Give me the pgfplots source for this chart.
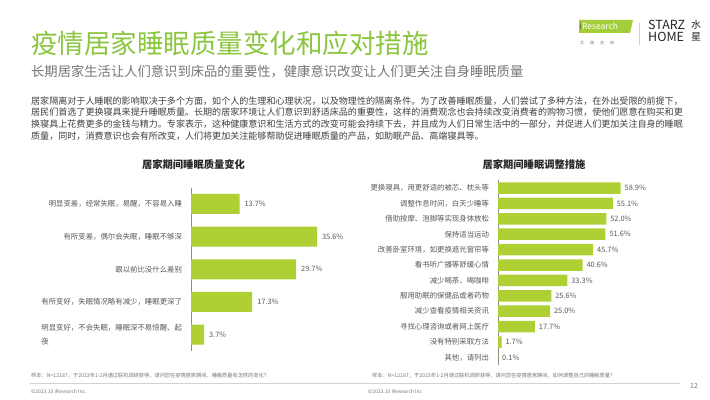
\documentclass[border=0pt]{standalone}
\usepackage{fontspec}
\setmainfont{Noto Sans CJK SC}
\usepackage{pgfplots}
\pgfplotsset{compat=1.18}
\definecolor{titlegreen}{RGB}{139,198,63}
\definecolor{bargreen}{RGB}{175,208,52}
\definecolor{logogreen}{RGB}{164,206,57}
\definecolor{txtgray}{RGB}{89,89,89}
\definecolor{subgray}{RGB}{118,118,118}
\definecolor{bodygray}{RGB}{64,64,64}
\definecolor{notegray}{RGB}{120,120,120}
\definecolor{linegray}{RGB}{210,210,210}
\newcommand{\fs}[2]{\fontsize{#1bp}{#2bp}\selectfont}
\begin{document}
\begin{tikzpicture}[x=1bp,y=1bp]
\useasboundingbox (0,0) rectangle (710,399);
\path[fill=white] (0,0) rectangle (710,399);
% header
\node[anchor=west, inner sep=0, text=titlegreen, font=\fs{26.5}{30}] at (31,399-43) {疫情居家睡眠质量变化和应对措施};
\node[anchor=west, inner sep=0, text=subgray, font=\fs{13.3}{15}] at (31,399-71.7) {长期居家生活让人们意识到床品的重要性，健康意识改变让人们更关注自身睡眠质量};
% logo
\fill[logogreen] (579,399-20) -- (633,399-20) -- (630,399-33) -- (579,399-33) -- cycle;
\node[anchor=west, inner sep=0, font=\fs{8.5}{9}] at (579.5,399-26.5) {\textcolor{black!70}{i}\textcolor{white}{Research}};
\node[anchor=west, inner sep=0, text=notegray, font=\fs{4}{5}] at (580,399-43) {艾\hspace{6bp}瑞\hspace{6bp}咨\hspace{6bp}询};
\draw[linegray, line width=0.6bp] (639,399-23) -- (639,399-45);
\node[anchor=west, inner sep=0, text=black!85, font=\fs{12.5}{13}] at (648,399-25) {STARZ};
\node[anchor=west, inner sep=0, text=black!85, font=\fs{12.5}{13}] at (648,399-37) {HOME};
\node[anchor=center, inner sep=0, text=black!85, font=\fs{10}{11}] at (696,399-25) {水};
\node[anchor=center, inner sep=0, text=black!85, font=\fs{10}{11}] at (696,399-37) {星};
% paragraph
\begin{scope}[every node/.style={anchor=west, inner sep=0, text=bodygray, font=\fs{9.05}{10}}]
\node at (31,399-100.7) {居家隔离对于人睡眠的影响取决于多个方面，如个人的生理和心理状况，以及物理性的隔离条件。为了改善睡眠质量，人们尝试了多种方法，在外出受限的前提下，};
\node at (31,399-112.3) {居民们首选了更换寝具来提升睡眠质量。长期的居家环境让人们意识到舒适床品的重要性，这样的消费观念也会持续改变消费者的购物习惯，使他们愿意在购买和更};
\node at (31,399-124) {换寝具上花费更多的金钱与精力。专家表示，这种健康意识和生活方式的改变可能会持续下去，并且成为人们日常生活中的一部分，并促进人们更加关注自身的睡眠};
\node at (31,399-135.7) {质量，同时，消费意识也会有所改变，人们将更加关注能够帮助促进睡眠质量的产品，如助眠产品、高端寝具等。};
\end{scope}
% chart titles
\node[inner sep=0, text=black!85, font=\fs{10.3}{11}\bfseries] at (193.5,399-165) {居家期间睡眠质量变化};
\node[inner sep=0, text=black!85, font=\fs{10.3}{11}\bfseries] at (534,399-165) {居家期间睡眠调整措施};
% left chart
\begin{axis}[
  at={(191bp,48bp)}, anchor=south west,
  scale only axis, width=141.6bp, height=163.5bp,
  xbar, bar width=20bp,
  xmin=0, xmax=40, ymin=-0.5, ymax=4.5, y dir=reverse,
  axis lines*=left,
  x axis line style={draw=none},
  y axis line style={-, draw=black!45, line width=0.6bp},
  xtick=\empty, ytick={0,1,2,3,4}, major tick length=0,
  yticklabels={明显变差，经常失眠，易醒，不容易入睡, 有所变差，偶尔会失眠，睡眠不够深, 跟以前比没什么差别, 有所变好，失眠情况略有减少，睡眠更深了, {\begin{tabular}{@{}l@{}}明显变好，不会失眠，睡眠深不易惊醒、起\\夜\end{tabular}}},
  yticklabel style={font=\fs{7.4}{14}, text=txtgray, xshift=-5.5bp},
  point meta=x,
  nodes near coords={\pgfmathprintnumber{\pgfplotspointmeta}\%},
  nodes near coords style={font=\fs{7.4}{8}, text=txtgray, anchor=west, xshift=1.5bp},
  /pgf/number format/.cd, fixed, fixed zerofill, precision=1, assume math mode=true,
]
\addplot[fill=bargreen, draw=none] coordinates {(13.7,0) (35.6,1) (29.7,2) (17.3,3) (3.7,4)};
\end{axis}
% right chart
\begin{axis}[
  at={(498bp,33.9bp)}, anchor=south west,
  scale only axis, width=145.8bp, height=184.8bp,
  xbar, bar width=11.5bp,
  xmin=0, xmax=70, ymin=-0.5, ymax=11.5, y dir=reverse,
  axis lines*=left,
  x axis line style={draw=none},
  y axis line style={-, draw=black!45, line width=0.6bp},
  xtick=\empty, ytick={0,...,11}, major tick length=0,
  yticklabels={更换寝具，用更舒适的被芯、枕头等, 调整作息时间，白天少睡等, 借助按摩、泡脚等实现身体放松, 保持适当运动, 改善卧室环境，如更换遮光窗帘等, 看书听广播等舒缓心情, 减少喝茶、喝咖啡, 服用助眠的保健品或者药物, 减少查看疫情相关资讯, 寻找心理咨询或者网上医疗, 没有特别采取方法, 其他，请列出},
  yticklabel style={font=\fs{7.4}{8}, text=txtgray, xshift=-5.5bp},
  point meta=x,
  nodes near coords={\pgfmathprintnumber{\pgfplotspointmeta}\%},
  nodes near coords style={font=\fs{7.4}{8}, text=txtgray, anchor=west, xshift=0.5bp},
  /pgf/number format/.cd, fixed, fixed zerofill, precision=1, assume math mode=true,
]
\addplot[fill=bargreen, draw=none] coordinates {(58.9,0) (55.1,1) (52.0,2) (51.6,3) (45.7,4) (40.6,5) (33.3,6) (25.6,7) (25.0,8) (17.7,9) (1.7,10) (0.1,11)};
\end{axis}
% footer
\node[anchor=west, inner sep=0, text=notegray, font=\fs{5.2}{6}] at (31,399-376) {样本：N=12187，于2023年1-2月通过联机调研获得，请问您在疫情居家期间，睡眠质量有怎样的变化？};
\node[anchor=west, inner sep=0, text=notegray, font=\fs{5.2}{6}] at (372,399-376) {样本：N=12187，于2023年1-2月通过联机调研获得，请问您在疫情居家期间，如何调整自己的睡眠质量？};
\draw[linegray, line width=0.5bp] (30,399-383) -- (680,399-383);
\node[anchor=west, inner sep=0, text=notegray, font=\fs{5}{6}] at (31,399-392) {©2023.10 iResearch Inc.};
\node[anchor=west, inner sep=0, text=notegray, font=\fs{5}{6}] at (368,399-392) {©2023.10 iResearch Inc};
\node[inner sep=0, text=notegray, font=\fs{7}{8}] at (694,399-386) {12};
\end{tikzpicture}
\end{document}
